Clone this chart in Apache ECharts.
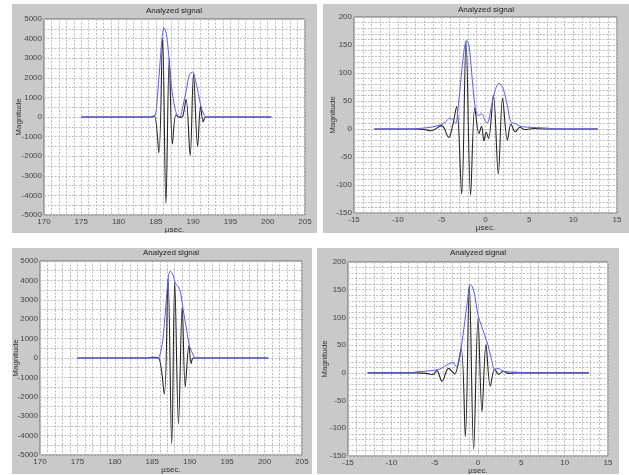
<!DOCTYPE html>
<html>
<head>
<meta charset="utf-8">
<script src="https://cdn.jsdelivr.net/npm/echarts@6/dist/echarts.min.js"></script>
<style>
html,body{margin:0;padding:0;background:#fff;width:629px;height:475px;overflow:hidden;}
.pane{position:absolute;background:#c9c9c9;}
</style>
</head>
<body>
<div id="p1" class="pane" style="left:12px;top:4px;width:305px;height:229px;"></div>
<div id="p2" class="pane" style="left:323px;top:4px;width:306px;height:229px;"></div>
<div id="p3" class="pane" style="left:12px;top:248px;width:300px;height:226px;"></div>
<div id="p4" class="pane" style="left:317px;top:248px;width:302px;height:226px;"></div>
<script>
// ---- Data: [µsec, magnitude] ----
const p1Signal = [[175,0],[184.3,0],[184.8,60],[185.4,-1830],[185.9,4020],[186.35,-4410],[186.8,3000],[187.22,-1380],[187.7,100],[188.2,-20],[188.6,40],[189.05,900],[189.6,-1970],[190.05,2180],[190.6,-1500],[191.0,550],[191.35,-250],[191.7,0],[200.5,0]];
const p1Envelope = [[175,0],[184.5,0],[184.9,80],[185.1,540],[185.5,2450],[185.85,4100],[186.1,4550],[186.4,4250],[186.7,3250],[187.1,1560],[187.6,370],[188.0,30],[188.2,20],[188.6,500],[189.1,1400],[189.5,2150],[189.95,2300],[190.3,1880],[190.7,1200],[191.1,450],[191.5,80],[191.7,0],[200.5,0]];

const p2Signal = [[-12.7,0],[-8,0],[-7,-1],[-6.2,-3],[-5.0,6],[-4.2,-15],[-3.75,6],[-3.3,40],[-2.72,-116],[-2.22,157],[-1.7,-118],[-1.22,38],[-0.75,-8],[-0.45,5],[-0.17,-21],[0.08,-6],[0.35,-17],[0.9,60],[1.46,-80],[1.95,55],[2.5,-20],[2.9,9],[3.4,-5],[3.9,3],[4.5,-1],[5.5,1],[7,0],[12.8,0]];
const p2Envelope = [[-12.7,0],[-8.5,0],[-7.5,1],[-6.33,3],[-5.19,7],[-4.62,12],[-4.05,19.6],[-3.67,15],[-3.4,10],[-3.1,42],[-2.8,89],[-2.45,140],[-2.15,158],[-1.88,149],[-1.58,101],[-1.2,42],[-0.82,24],[-0.43,27],[-0.06,15],[0.2,11],[0.7,42],[1.08,68],[1.54,81.5],[2.03,71],[2.49,42],[2.9,12],[3.36,10],[3.93,5],[5.08,3],[6.6,2],[7.4,1],[8,0],[12.8,0]];

const p3Signal = [[175,0],[184.3,0],[185.0,30],[185.8,20],[186.6,-1862],[187.1,4092],[187.6,-4436],[188.0,3920],[188.5,-3406],[189.0,2634],[189.4,-1484],[189.9,660],[190.2,-283],[190.5,0],[200.5,0]];
const p3Envelope = [[175,0],[185.7,0],[185.95,60],[186.4,918],[186.8,2634],[187.1,4007],[187.4,4470],[187.8,4264],[188.1,3835],[188.5,3664],[188.8,3320],[189.1,2548],[189.6,1433],[190.0,575],[190.5,146],[190.8,0],[200.5,0]];

const p4Signal = [[-12.7,0],[-7,0],[-6,-1],[-5.2,-3],[-4.75,4],[-4.15,-15],[-3.4,8],[-2.7,-2],[-1.95,44],[-1.46,-115],[-1.0,157],[-0.5,-138],[0,99],[0.46,-70],[0.92,51],[1.42,-24],[1.92,7],[2.4,-3],[2.9,3],[3.5,-1],[4.5,0],[12.8,0]];
const p4Envelope = [[-12.8,0],[-8,0],[-6.9,2],[-5.4,4],[-4.4,7],[-3.85,12],[-2.9,18.6],[-2.5,11],[-2.2,22],[-1.95,44],[-1.54,90],[-1.23,128],[-0.9,159],[-0.65,155],[-0.38,140],[0,104],[0.38,86],[0.77,68],[1.15,50],[1.54,26],[1.92,6],[2.3,8],[2.9,3],[4.6,1],[5.5,0],[12.8,0]];

// axis ranges / tick steps
const absXRange = [170, 205], absXStep = 5, absYRange = [-5000, 5000], absYStep = 1000;
const relXRange = [-15, 15], relXStep = 5, relYRange = [-150, 200], relYStep = 50;

const titleText = 'Analyzed signal';
const xName = 'µsec.';
const yName = 'Magnitude';

const FONT = '"Liberation Sans", Arial, sans-serif';
const gridLine = {show:true, lineStyle:{color:'#bdbdbd', type:[2,1.5], width:1}};
const plain = function(v){ return String(v); };

function makeOption(cfg){
  return {
    animation:false,
    textStyle:{fontFamily:FONT},
    title:{text:titleText, left:cfg.titleX, top:cfg.titleY, textAlign:'center', padding:0,
      textStyle:{fontSize:8, fontWeight:'normal', color:'#222', fontFamily:FONT}},
    grid:{show:true, left:cfg.gl, top:cfg.gt, width:cfg.gw, height:cfg.gh,
      backgroundColor:'#ffffff', borderColor:'#6a6a6a', borderWidth:1,
      containLabel:false, outerBoundsMode:'none'},
    xAxis:{type:'value', min:cfg.xr[0], max:cfg.xr[1], interval:cfg.xs,
      name:xName, nameLocation:'middle', nameGap:cfg.xng, nameMoveOverlap:false,
      nameTextStyle:{fontSize:8, color:'#333', fontFamily:FONT},
      axisLine:{show:false, onZero:false}, axisTick:{show:false},
      axisLabel:{fontSize:8, color:'#444', margin:3, fontFamily:FONT, formatter:plain, hideOverlap:false},
      splitLine:gridLine,
      minorTick:{show:false, splitNumber:5},
      minorSplitLine:gridLine},
    yAxis:{type:'value', min:cfg.yr[0], max:cfg.yr[1], interval:cfg.ys,
      name:yName, nameLocation:'middle', nameGap:cfg.yng, nameRotate:90, nameMoveOverlap:false,
      nameTextStyle:{fontSize:8, color:'#333', fontFamily:FONT},
      axisLine:{show:false, onZero:false}, axisTick:{show:false},
      axisLabel:{fontSize:8, color:'#444', margin:2, fontFamily:FONT, formatter:plain, hideOverlap:false},
      splitLine:gridLine,
      minorTick:{show:false, splitNumber:cfg.ymin},
      minorSplitLine:gridLine},
    series:[
      {type:'line', data:cfg.sig, showSymbol:false, smooth:0.35, lineStyle:{color:'#262626', width:1.1}, z:3},
      {type:'line', data:cfg.env, showSymbol:false, smooth:0.35, lineStyle:{color:'#5a5aff', width:1}, z:4}
    ]
  };
}

const panes = [
  {id:'p1', gl:32, gt:15, gw:261, gh:196, titleX:162, titleY:3, xr:absXRange, xs:absXStep, yr:absYRange, ys:absYStep, ymin:2, xng:11, yng:21, sig:p1Signal, env:p1Envelope},
  {id:'p2', gl:31, gt:13, gw:263, gh:196, titleX:163, titleY:2, xr:relXRange, xs:relXStep, yr:relYRange, ys:relYStep, ymin:5, xng:11, yng:17, sig:p2Signal, env:p2Envelope},
  {id:'p3', gl:28, gt:13, gw:262, gh:194, titleX:159, titleY:1, xr:absXRange, xs:absXStep, yr:absYRange, ys:absYStep, ymin:2, xng:11, yng:20, sig:p3Signal, env:p3Envelope},
  {id:'p4', gl:31, gt:14, gw:260, gh:194, titleX:161, titleY:1, xr:relXRange, xs:relXStep, yr:relYRange, ys:relYStep, ymin:5, xng:11, yng:19, sig:p4Signal, env:p4Envelope}
];

panes.forEach(function(p){
  const chart = echarts.init(document.getElementById(p.id), null, {renderer:'canvas'});
  chart.setOption(makeOption(p));
});
</script>
</body>
</html>
